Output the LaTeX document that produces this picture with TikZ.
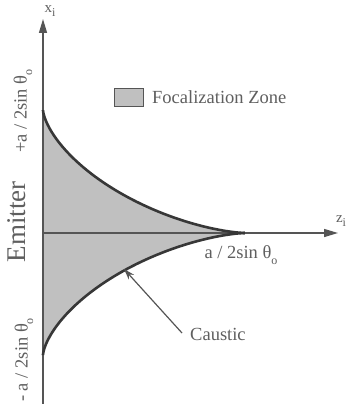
\documentclass[tikz,border=0pt]{standalone}
\usepackage{fontspec}
\setmainfont{Liberation Serif}
\usetikzlibrary{arrows.meta}
\definecolor{zonegray}{RGB}{192,192,192}
\definecolor{txtgray}{RGB}{95,95,95}
\definecolor{curvegray}{RGB}{55,55,55}
\definecolor{axisgray}{RGB}{85,85,85}
\newcommand{\lowsub}[1]{\raisebox{-0.3em}{\fontsize{12}{12}\selectfont #1}}
\tikzset{
  axisline/.style={draw=axisgray, line width=1.4pt, -{Triangle[length=14pt,width=8pt]}},
  causticline/.style={draw=curvegray, line width=2.6pt},
  lbl/.style={text=txtgray, font=\fontsize{18.5}{20}\selectfont, inner sep=0pt},
  pointer/.style={draw=axisgray, line width=1.2pt, -{Stealth[length=11pt,width=7pt]}}
}
\begin{document}
\begin{tikzpicture}[x=1pt,y=-1pt]
\useasboundingbox (0,0) rectangle (348,404);
\fill[white] (0,0) rectangle (348,404);
% focalization zone
\fill[zonegray] plot[domain=90:0, samples=120, variable=\t] ({43+202*cos(\t)^3},{233-123*sin(\t)^3})
  -- plot[domain=0:90, samples=120, variable=\t] ({43+202*cos(\t)^3},{233+122*sin(\t)^3}) -- cycle;
% axes
\coordinate (O) at (43,233);
\coordinate (xtop) at (43,19);
\coordinate (xbot) at (43,404);
\coordinate (zend) at (338,233);
\draw[axisline] (xbot) -- (xtop);
\draw[axisline] (O) -- (zend);
% caustic curves
\draw[causticline] plot[domain=90:0, samples=120, variable=\t] ({43+202*cos(\t)^3},{233-123*sin(\t)^3});
\draw[causticline] plot[domain=90:0, samples=120, variable=\t] ({43+202*cos(\t)^3},{233+122*sin(\t)^3});
% axis labels
\node[lbl, font=\fontsize{15}{15}\selectfont] (xl) at (50,11) {x\lowsub{i}};
\node[lbl, font=\fontsize{15}{15}\selectfont] (zl) at (341,221) {z\lowsub{i}};
% emitter labels
\node[lbl, rotate=90, anchor=west] (ptop) at (23,153) {+a / 2sin θ\lowsub{o}};
\node[lbl, rotate=90, font=\fontsize{27}{28}\selectfont] (emit) at (17,222) {Emitter};
\node[lbl, rotate=90, anchor=west] (pbot) at (24,402) {- a / 2sin θ\lowsub{o}};
\node[lbl] (zlab) at (241,255) {a / 2sin θ\lowsub{o}};
% legend
\node[draw=axisgray, line width=0.8pt, fill=zonegray, minimum width=29pt, minimum height=18pt, inner sep=0pt] (legbox) at (128.5,97) {};
\node[lbl, anchor=west] (legtext) at (152,97) {Focalization Zone};
% caustic pointer
\node[lbl, anchor=west] (caus) at (190,334) {Caustic};
\coordinate (causpt) at (124,269);
\draw[pointer] (caus.west) ++(-8,-1) coordinate (cstart) -- (causpt);
\end{tikzpicture}
\end{document}
